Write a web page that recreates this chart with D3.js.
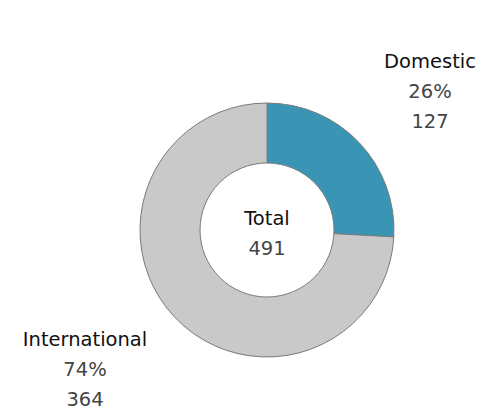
<!DOCTYPE html>
<html><head><meta charset="utf-8">
<script src="https://cdn.jsdelivr.net/npm/d3@7"></script>
<style>body{margin:0;background:#fff}svg{display:block}text{font-family:"DejaVu Sans",sans-serif}</style>
</head><body><svg width="482" height="411"></svg>
<script>
const categories = ["Domestic", "International"];
const values = [127, 364];
const colors = ["#3A95B4", "#C9C9C9"];
const totalLabel = "Total";

const svg = d3.select("svg");
const cx = 267, cy = 230, rOuter = 127, rInner = 67;
const total = d3.sum(values);
const data = categories.map((c, i) => ({name: c, value: values[i], color: colors[i]}));
const pie = d3.pie().value(d => d.value).sort(null);
const arc = d3.arc().innerRadius(0).outerRadius(rOuter);
const g = svg.append("g").attr("transform", `translate(${cx},${cy})`);
g.selectAll("path").data(pie(data)).join("path")
  .attr("d", arc).attr("fill", d => d.data.color)
  .attr("stroke", "#7a7a7a").attr("stroke-width", 1);
g.append("circle").attr("r", rInner).attr("fill", "#fff").attr("stroke", "#7a7a7a").attr("stroke-width", 1);

const fs = 19.5;
function label(x, y, lines) {
  const t = svg.append("text").attr("text-anchor", "middle").attr("font-size", fs);
  lines.forEach((l, i) => {
    t.append("tspan").attr("x", x).attr("y", y + i * 30).attr("fill", i === 0 ? "#111" : "#444").text(l);
  });
}
const pct = v => Math.round(v / total * 100) + "%";
label(430, 68, [categories[0], pct(values[0]), String(values[0])]);
label(85, 346, [categories[1], pct(values[1]), String(values[1])]);
label(267, 225, [totalLabel, String(total)]);
</script></body></html>
